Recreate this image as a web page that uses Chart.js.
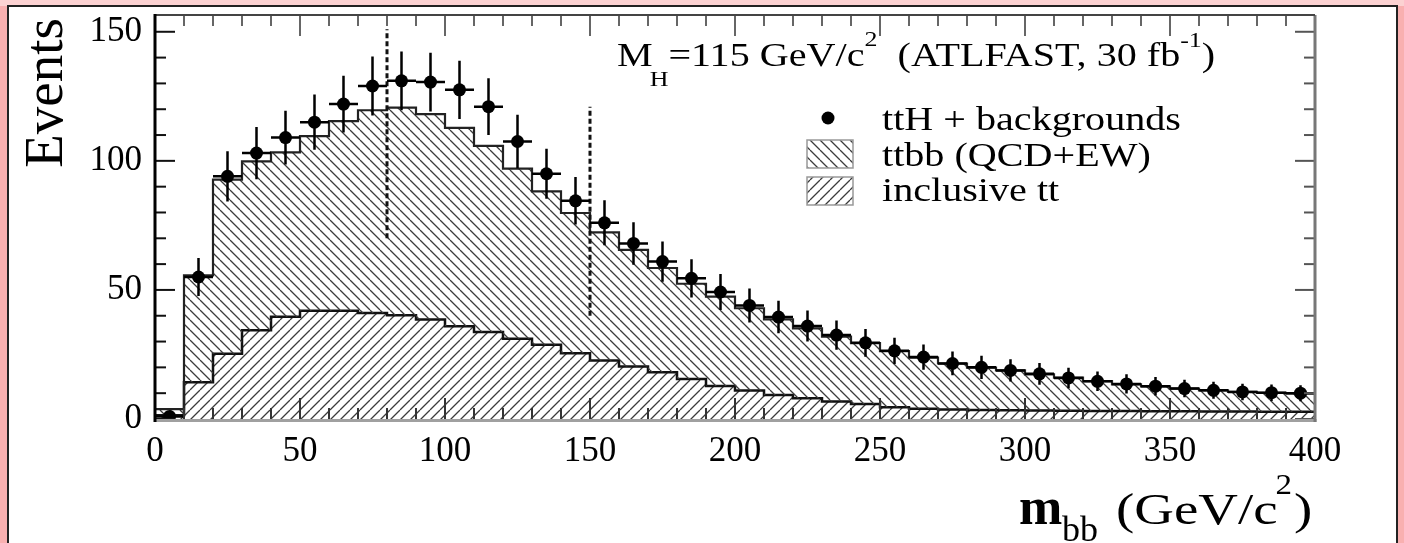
<!DOCTYPE html>
<html>
<head>
<meta charset="utf-8">
<title>m_bb distribution</title>
<script src="https://cdn.jsdelivr.net/npm/chart.js@4.4.1/dist/chart.umd.min.js"></script>
<style>
  html, body { margin: 0; padding: 0; }
  body { width: 1404px; height: 543px; background: #fcd2d2; position: relative; overflow: hidden; }
  .side { position: absolute; top: 6px; bottom: 0; width: 8px; background: #f9b0b0; }
  .frame { position: absolute; left: 7px; top: 5px; width: 1387px; height: 540px;
           background: #fff; border: 2px solid #222; border-bottom: none; }
  #mbb { position: absolute; left: 0; top: 0; }
</style>
</head>
<body>
<div class="side" style="left:0"></div>
<div class="side" style="right:0"></div>
<div class="frame"></div>
<canvas id="mbb" width="1404" height="543"></canvas>
<script>
/* ---- Data ---- */
const BIN_WIDTH = 10;
const X_MAX = 400;
const BIN_LOW = [0, 10, 20, 30, 40, 50, 60, 70, 80, 90,
  100, 110, 120, 130, 140, 150, 160, 170, 180, 190,
  200, 210, 220, 230, 240, 250, 260, 270, 280, 290,
  300, 310, 320, 330, 340, 350, 360, 370, 380, 390];

// ttH + backgrounds (points) and their error bars
const DATA_EVENTS = [1, 55, 94, 103, 109, 115, 122, 129, 131, 130.5,
  127.5, 121, 107.5, 95, 84.5, 76, 68, 61, 54.5, 49.2,
  44, 39.5, 36, 32.5, 29.5, 26.4, 24, 21.5, 20, 18.8,
  17.5, 15.9, 14.6, 13.6, 12.7, 11.8, 11.1, 10.5, 10.2, 10];
const DATA_ERR = [1, 7.4, 9.7, 10.1, 10.4, 10.7, 11, 11.4, 11.4, 11.4,
  11.3, 11, 10.4, 9.7, 9.2, 8.7, 8.2, 7.8, 7.4, 7,
  6.6, 6.3, 6, 5.7, 5.4, 5.1, 4.9, 4.6, 4.5, 4.3,
  4.2, 4, 3.8, 3.7, 3.6, 3.4, 3.3, 3.2, 3.2, 3.1];

// top of the stack: ttbb (QCD+EW) on top of inclusive tt
const STACK_TOTAL = [3.8, 55.6, 92.7, 99.8, 103.3, 109.6, 115.4, 119.6, 120.6, 118.1,
  112.8, 105.8, 97, 88.2, 79.8, 72.3, 65.5, 58.5, 52.4, 47.4,
  42.9, 38.6, 35.1, 31.9, 29.4, 26.3, 23.8, 21.5, 19.9, 18.8,
  17.3, 16, 14.7, 13.4, 12.6, 11.8, 11.1, 10.5, 10.1, 9.9];

// inclusive tt
const TT_INCLUSIVE = [1.5, 14.2, 25.3, 34.4, 39.6, 41.9, 41.9, 41.1, 40.2, 38.5,
  35.9, 33.7, 31.1, 28.8, 25.5, 22.7, 20.3, 18.1, 15.5, 12.8,
  11, 9.3, 8, 6.8, 5.8, 4.6, 4, 3.7, 3.5, 3.4,
  3.3, 3.2, 3.1, 3.1, 3, 3, 2.9, 2.9, 2.8, 2.8];

// mass-window markers: x position, from / to (Events)
const CUT_X = [80, 150];
const CUT_FROM = [70, 40];
const CUT_TO = [151, 121];

const X_TICKS = [0, 50, 100, 150, 200, 250, 300, 350, 400];
const Y_TICKS = [0, 50, 100, 150];
const X_MINOR_STEP = 10;
const Y_MINOR_STEP = 10;
const Y_MAX = 156.5;

const LEGEND_LABELS = ['ttH + backgrounds', 'ttbb (QCD+EW)', 'inclusive tt'];

const SERIF = '"Liberation Serif", "Times New Roman", serif';

/* ---- Hatch patterns ---- */
function hatch(direction) {
  const p = 10;
  const tile = document.createElement('canvas');
  tile.width = p;
  tile.height = p;
  const c = tile.getContext('2d');
  c.strokeStyle = '#3c3c3c';
  c.lineWidth = 1.3;
  c.beginPath();
  [-p, 0, p].forEach((k) => {
    if (direction === 'back') {
      c.moveTo(k, 0);
      c.lineTo(k + p, p);
    } else {
      c.moveTo(k, p);
      c.lineTo(k + p, 0);
    }
  });
  c.stroke();
  return c.createPattern(tile, 'repeat');
}

const ctx = document.getElementById('mbb').getContext('2d');
const backHatch = hatch('back');
const fwdHatch = hatch('fwd');

function histPoints(values) {
  const pts = BIN_LOW.map((x, i) => ({ x, y: values[i] }));
  pts.push({ x: X_MAX, y: values[values.length - 1] });
  return pts;
}

/* ---- Text helper: horizontally stretched serif text ---- */
function text(c, str, x, y, size, sx, weight) {
  c.save();
  c.font = `${weight || 'normal'} ${size}px ${SERIF}`;
  c.translate(x, y);
  c.scale(sx, 1);
  c.fillText(str, 0, 0);
  const w = c.measureText(str).width * sx;
  c.restore();
  return w;
}

/* ---- Error bars ---- */
const errorBars = {
  id: 'errorBars',
  afterDatasetsDraw(chart) {
    const { ctx: c, scales: { x, y } } = chart;
    c.save();
    c.strokeStyle = '#000';
    c.lineWidth = 2.5;
    BIN_LOW.forEach((lo, i) => {
      const xc = x.getPixelForValue(lo + BIN_WIDTH / 2);
      const yc = y.getPixelForValue(DATA_EVENTS[i]);
      c.beginPath();
      c.moveTo(x.getPixelForValue(lo), yc);
      c.lineTo(x.getPixelForValue(lo + BIN_WIDTH), yc);
      c.moveTo(xc, y.getPixelForValue(Math.max(0, DATA_EVENTS[i] - DATA_ERR[i])));
      c.lineTo(xc, y.getPixelForValue(DATA_EVENTS[i] + DATA_ERR[i]));
      c.stroke();
    });
    c.restore();
  },
};

/* ---- ROOT style frame with inward ticks ---- */
const rootFrame = {
  id: 'rootFrame',
  afterDraw(chart) {
    const { ctx: c, chartArea: a, scales: { x, y } } = chart;
    c.save();
    // ticks
    c.lineWidth = 2;
    for (let v = 0; v <= X_MAX; v += X_MINOR_STEP) {
      const px = x.getPixelForValue(v);
      const len = X_TICKS.includes(v) ? 21 : 11;
      c.strokeStyle = '#333';
      c.beginPath();
      c.moveTo(px, a.bottom);
      c.lineTo(px, a.bottom - len);
      c.stroke();
      c.strokeStyle = '#666';
      c.beginPath();
      c.moveTo(px, a.top);
      c.lineTo(px, a.top + len);
      c.stroke();
    }
    for (let v = 0; v <= Y_MAX; v += Y_MINOR_STEP) {
      const py = y.getPixelForValue(v);
      const len = Y_TICKS.includes(v) ? 20 : 11;
      c.strokeStyle = '#111';
      c.beginPath();
      c.moveTo(a.left, py);
      c.lineTo(a.left + len, py);
      c.stroke();
      c.strokeStyle = '#555';
      c.beginPath();
      c.moveTo(a.right, py);
      c.lineTo(a.right - len, py);
      c.stroke();
    }
    // frame
    c.lineWidth = 3;
    c.strokeStyle = '#a0a0a0';
    c.beginPath(); c.moveTo(a.left, a.bottom + 1.5); c.lineTo(a.right + 1.5, a.bottom + 1.5); c.stroke();
    c.strokeStyle = '#777';
    c.beginPath(); c.moveTo(a.right, a.top); c.lineTo(a.right, a.bottom + 3); c.stroke();
    c.lineWidth = 2;
    c.strokeStyle = '#444';
    c.beginPath(); c.moveTo(a.left, a.top); c.lineTo(a.right, a.top); c.stroke();
    c.lineWidth = 3;
    c.strokeStyle = '#000';
    c.beginPath(); c.moveTo(a.left, a.top - 1); c.lineTo(a.left, a.bottom + 3); c.stroke();
    c.restore();
  },
};

/* ---- Titles and legend ---- */
const annotations = {
  id: 'annotations',
  afterDraw(chart) {
    const c = chart.ctx;
    c.save();
    c.fillStyle = '#000';
    c.textBaseline = 'alphabetic';

    // y axis title
    c.save();
    c.font = `55px ${SERIF}`;
    c.translate(62, 93);
    c.rotate(-Math.PI / 2);
    c.textAlign = 'center';
    c.fillText('Events', 0, 0);
    c.restore();

    // x axis title
    text(c, 'm', 1019, 524, 52, 1.0, 'bold');
    text(c, 'bb', 1062, 541, 36, 1.0);
    let xx = 1116;
    xx += text(c, '(GeV/c', xx, 524, 45, 1.22);
    xx += text(c, '2', xx - 2, 494, 30, 1.1);
    text(c, ')', xx, 524, 45, 1.22);

    // header
    const sx = 1.18;
    xx = 617;
    xx += text(c, 'M', xx, 66, 34, sx);
    xx += text(c, 'H', xx - 3, 86, 22, sx) - 3;
    xx += text(c, '=115 GeV/c', xx, 66, 34, sx);
    xx += text(c, '2', xx, 46, 22, sx);
    xx += text(c, '  (ATLFAST, 30 fb', xx, 66, 34, sx);
    xx += text(c, '-1', xx, 47, 22, sx);
    text(c, ')', xx, 66, 34, sx);

    // legend
    const rows = [130, 165.5, 201];
    c.beginPath();
    c.arc(828, 118, 6.5, 0, Math.PI * 2);
    c.fill();
    [[backHatch, 140], [fwdHatch, 177]].forEach(([pat, top]) => {
      c.fillStyle = pat;
      c.fillRect(807, top, 46, 28);
      c.strokeStyle = '#999';
      c.lineWidth = 1.5;
      c.strokeRect(807, top, 46, 28);
    });
    c.fillStyle = '#000';
    LEGEND_LABELS.forEach((label, i) => text(c, label, 882, rows[i], 34, sx));
    c.restore();
  },
};

new Chart(ctx, {
  type: 'line',
  data: {
    datasets: [
      {
        label: LEGEND_LABELS[2],
        data: histPoints(TT_INCLUSIVE),
        stepped: true,
        borderColor: '#111',
        borderWidth: 2.5,
        pointRadius: 0,
        fill: 'origin',
        backgroundColor: fwdHatch,
        order: 3,
      },
      {
        label: LEGEND_LABELS[1],
        data: histPoints(STACK_TOTAL),
        stepped: true,
        borderColor: '#222',
        borderWidth: 2.2,
        pointRadius: 0,
        fill: '-1',
        backgroundColor: backHatch,
        order: 2,
      },
      ...CUT_X.map((cx, i) => ({
        label: 'window ' + cx,
        data: [{ x: cx, y: CUT_FROM[i] }, { x: cx, y: CUT_TO[i] }],
        borderColor: '#111',
        borderWidth: 3,
        borderDash: [5, 3],
        pointRadius: 0,
        fill: false,
        order: 1,
      })),
      {
        type: 'scatter',
        label: LEGEND_LABELS[0],
        data: BIN_LOW.map((lo, i) => ({ x: lo + BIN_WIDTH / 2, y: DATA_EVENTS[i] })),
        pointRadius: 6.5,
        pointBackgroundColor: '#000',
        pointBorderWidth: 0,
        showLine: false,
        order: 0,
      },
    ],
  },
  options: {
    responsive: false,
    animation: false,
    devicePixelRatio: 1,
    layout: { padding: { left: 0, right: 89, top: 15, bottom: 0 } },
    plugins: { legend: { display: false }, tooltip: { enabled: false } },
    scales: {
      x: {
        type: 'linear',
        min: 0,
        max: X_MAX,
        grid: { display: false, drawTicks: false },
        border: { display: false },
        afterBuildTicks: (s) => { s.ticks = X_TICKS.map((v) => ({ value: v })); },
        afterFit: (s) => { s.height = 124; s.paddingLeft = 0; s.paddingRight = 0; },
        ticks: {
          autoSkip: false,
          maxRotation: 0,
          padding: 12,
          color: '#000',
          font: { family: SERIF, size: 35 },
        },
      },
      y: {
        min: 0,
        max: Y_MAX,
        grid: { display: false, drawTicks: false },
        border: { display: false },
        afterBuildTicks: (s) => { s.ticks = Y_TICKS.map((v) => ({ value: v })); },
        afterFit: (s) => { s.width = 155; s.paddingTop = 0; s.paddingBottom = 0; },
        ticks: {
          padding: 13,
          color: '#000',
          font: { family: SERIF, size: 35 },
        },
      },
    },
  },
  plugins: [errorBars, rootFrame, annotations],
});
</script>
</body>
</html>
